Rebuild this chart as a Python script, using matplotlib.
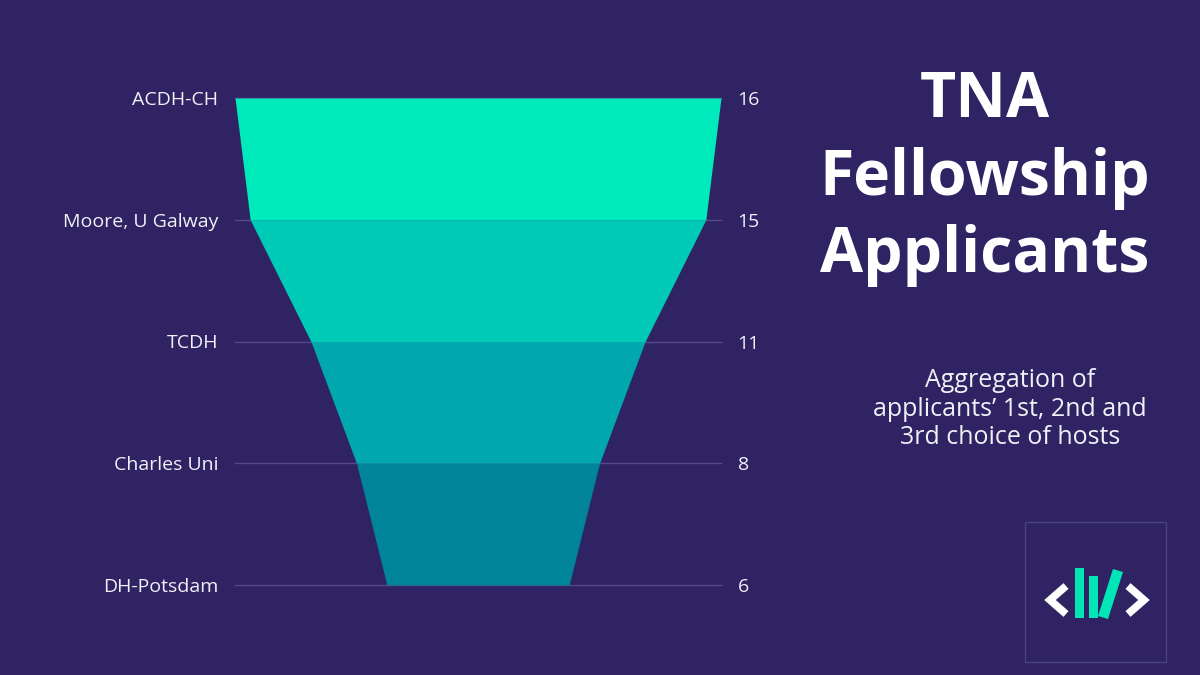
import numpy as np
import matplotlib.pyplot as plt
from matplotlib.patches import Polygon, Rectangle
from matplotlib.lines import Line2D

# Data
hosts = ['ACDH-CH', 'Moore, U Galway', 'TCDH', 'Charles Uni', 'DH-Potsdam']
applicants = [16, 15, 11, 8, 6]
band_colors = ['#00EBBC', '#00C9B6', '#00A8AD', '#00849A']

bg = '#2f2363'
W, H = 1200, 675

plt.rcParams['font.family'] = ['Open Sans', 'DejaVu Sans']

fig = plt.figure(figsize=(12, 6.75), dpi=100, facecolor=bg)


def px(x, y):
    # pixel coords -> figure fraction
    return x / W, 1 - y / H


# funnel axes: left 235px, right 721px, top 98px, bottom 585px
ax = fig.add_axes([235 / W, 1 - 585 / H, 486 / W, 487 / H])
ax.set_facecolor(bg)
half = max(applicants) / 2
ax.set_xlim(-half, half)
ax.set_ylim(len(hosts) - 1, 0)

ys = np.arange(len(hosts))
vals = np.array(applicants, dtype=float)

# grid lines at each level
for y in ys:
    ax.plot([-half, half], [y, y], color='#54498a', lw=1, zorder=1, clip_on=False)

# bands between levels
for i in range(len(hosts) - 1):
    t = np.linspace(0, 1, 50)
    yy = ys[i] + t
    ww = (vals[i] + (vals[i + 1] - vals[i]) * t) / 2
    ax.fill_betweenx(yy, -ww, ww, color=band_colors[i], lw=0, zorder=2)

ax.set_xticks([])
ax.set_yticks(ys)
ax.set_yticklabels(hosts)
ax.tick_params(axis='y', length=0, pad=12, labelsize=14, labelcolor='#f2f0f7')
for s in ax.spines.values():
    s.set_visible(False)

ax2 = ax.twinx()
ax2.set_ylim(ax.get_ylim())
ax2.set_yticks(ys)
ax2.set_yticklabels([str(v) for v in applicants])
ax2.tick_params(axis='y', length=0, pad=12, labelsize=14, labelcolor='#f2f0f7')
for s in ax2.spines.values():
    s.set_visible(False)

# title and subtitle
fig.text(*px(985, 178), 'TNA\nFellowship\nApplicants', ha='center', va='center',
         color='white', fontsize=45, fontweight='bold', linespacing=1.3)
fig.text(*px(1010, 409), 'Aggregation of\napplicants\u2019 1st, 2nd and\n3rd choice of hosts',
         ha='center', va='center', color='#f2f0f7', fontsize=18, linespacing=1.2)

# logo
x0, y0 = px(1025, 662)
fig.add_artist(Rectangle((x0, y0), 141 / W, 140 / H, transform=fig.transFigure,
                         facecolor='none', edgecolor='#4b4186', lw=1))
for pts in ([(1066, 586), (1050, 600), (1066, 614)], [(1128, 586), (1144, 600), (1128, 614)]):
    xs, yv = zip(*[px(a, b) for a, b in pts])
    fig.add_artist(Line2D(xs, yv, transform=fig.transFigure, color='white', lw=5.5,
                          solid_joinstyle='miter', solid_capstyle='butt'))
teal = '#00E6B6'
for poly in ([(1075, 568), (1084, 568), (1084, 618), (1075, 618)],
             [(1089, 576), (1098, 576), (1098, 618), (1089, 618)],
             [(1113, 569), (1123, 572), (1108, 619), (1098, 616)]):
    fig.add_artist(Polygon([px(a, b) for a, b in poly], closed=True, transform=fig.transFigure,
                           facecolor=teal, edgecolor='none'))

fig.savefig('out.png', dpi=100, facecolor=bg)
